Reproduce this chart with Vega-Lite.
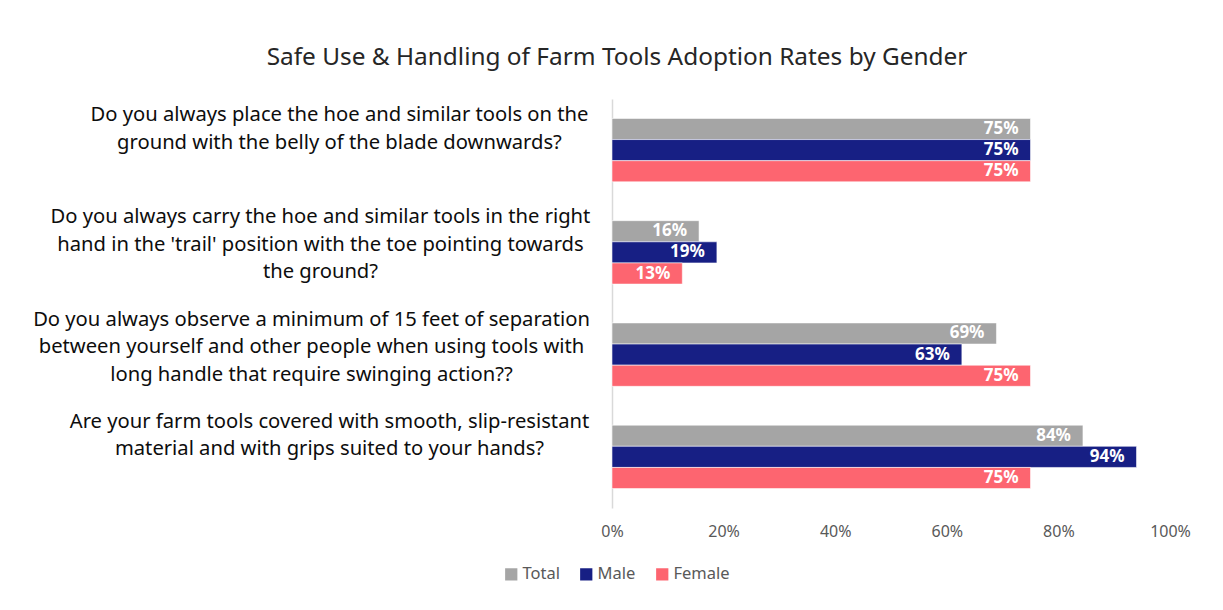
{
  "$schema": "https://vega.github.io/schema/vega-lite/v6.json",
  "autosize": {"type": "none"},
  "width": 558,
  "height": 409,
  "padding": {"left": 612, "top": 99, "right": 53, "bottom": 102},
  "background": "#ffffff",
  "config": {
    "font": "Noto Sans",
    "view": {"stroke": null}
  },
  "title": {
    "text": "Safe Use & Handling of Farm Tools Adoption Rates by Gender",
    "font": "Noto Sans",
    "fontSize": 24.4,
    "fontWeight": "normal",
    "color": "#262626",
    "anchor": "middle",
    "frame": "group",
    "dx": -274,
    "offset": 29
  },
  "data": {
    "values": [
      {"question": "Do you always place the hoe and similar tools  on the|ground with the belly of the blade downwards?", "gender": "Total", "rate": 0.75},
      {"question": "Do you always place the hoe and similar tools  on the|ground with the belly of the blade downwards?", "gender": "Male", "rate": 0.75},
      {"question": "Do you always place the hoe and similar tools  on the|ground with the belly of the blade downwards?", "gender": "Female", "rate": 0.75},
      {"question": "Do you always carry the hoe and similar tools in the right|hand in the 'trail' position with the toe pointing towards|the ground?", "gender": "Total", "rate": 0.156},
      {"question": "Do you always carry the hoe and similar tools in the right|hand in the 'trail' position with the toe pointing towards|the ground?", "gender": "Male", "rate": 0.188},
      {"question": "Do you always carry the hoe and similar tools in the right|hand in the 'trail' position with the toe pointing towards|the ground?", "gender": "Female", "rate": 0.126},
      {"question": "Do you always observe a minimum of 15 feet of separation|between yourself and other people when using tools with|long handle that require swinging action??", "gender": "Total", "rate": 0.689},
      {"question": "Do you always observe a minimum of 15 feet of separation|between yourself and other people when using tools with|long handle that require swinging action??", "gender": "Male", "rate": 0.627},
      {"question": "Do you always observe a minimum of 15 feet of separation|between yourself and other people when using tools with|long handle that require swinging action??", "gender": "Female", "rate": 0.75},
      {"question": "Are your farm tools covered with smooth, slip-resistant|material and with grips suited to your hands?", "gender": "Total", "rate": 0.844},
      {"question": "Are your farm tools covered with smooth, slip-resistant|material and with grips suited to your hands?", "gender": "Male", "rate": 0.94},
      {"question": "Are your farm tools covered with smooth, slip-resistant|material and with grips suited to your hands?", "gender": "Female", "rate": 0.75}
    ]
  },
  "encoding": {
    "y": {
      "field": "question",
      "type": "nominal",
      "sort": null,
      "scale": {"paddingInner": 0.38, "paddingOuter": 0.19},
      "axis": {
        "title": null,
        "ticks": false,
        "domainColor": "#d9d9d9",
        "domainWidth": 1.5,
        "labelExpr": "split(datum.label, '|')",
        "labelFont": "Noto Sans",
        "labelFontSize": 20.2,
        "labelColor": "#0d0d0d",
        "labelAlign": "center",
        "labelBaseline": "top",
        "labelLineHeight": 27.5,
        "labelOffset": -45,
        "labelLimit": 700,
        "labelPadding": {
          "condition": [
            {"test": "indexof(datum.value, 'place the hoe') >= 0", "value": 273},
            {"test": "indexof(datum.value, 'carry the hoe') >= 0", "value": 292},
            {"test": "indexof(datum.value, 'observe') >= 0", "value": 301}
          ],
          "value": 283
        }
      }
    },
    "yOffset": {"field": "gender", "type": "nominal", "sort": ["Total", "Male", "Female"]},
    "x": {
      "field": "rate",
      "type": "quantitative",
      "scale": {"domain": [0, 1], "nice": false},
      "axis": {
        "title": null,
        "values": [0, 0.2, 0.4, 0.6, 0.8, 1],
        "format": ".0%",
        "grid": false,
        "domain": false,
        "ticks": false,
        "labelFont": "Noto Sans",
        "labelFontSize": 16,
        "labelColor": "#595959",
        "labelPadding": 15,
        "labelFlush": false
      }
    }
  },
  "layer": [
    {
      "mark": {"type": "bar", "stroke": "#ffffff", "strokeWidth": 0.8, "strokeOpacity": 0.7},
      "encoding": {
        "color": {
          "field": "gender",
          "type": "nominal",
          "scale": {"domain": ["Total", "Male", "Female"], "range": ["#A5A5A5", "#171F84", "#FD6570"]},
          "legend": {
            "title": null,
            "orient": "none",
            "direction": "horizontal",
            "legendX": -109,
            "legendY": 467,
            "symbolType": "square",
            "symbolSize": 150,
            "symbolStrokeWidth": 0,
            "labelFont": "Noto Sans",
            "labelFontSize": 16.5,
            "labelColor": "#595959",
            "labelOffset": 3,
            "columnPadding": 18
          }
        }
      }
    },
    {
      "mark": {"type": "text", "align": "right", "baseline": "middle", "dx": -12, "color": "#ffffff", "fontWeight": "bold", "fontSize": 17, "font": "Noto Sans"},
      "encoding": {
        "text": {"field": "rate", "type": "quantitative", "format": ".0%"}
      }
    }
  ]
}
